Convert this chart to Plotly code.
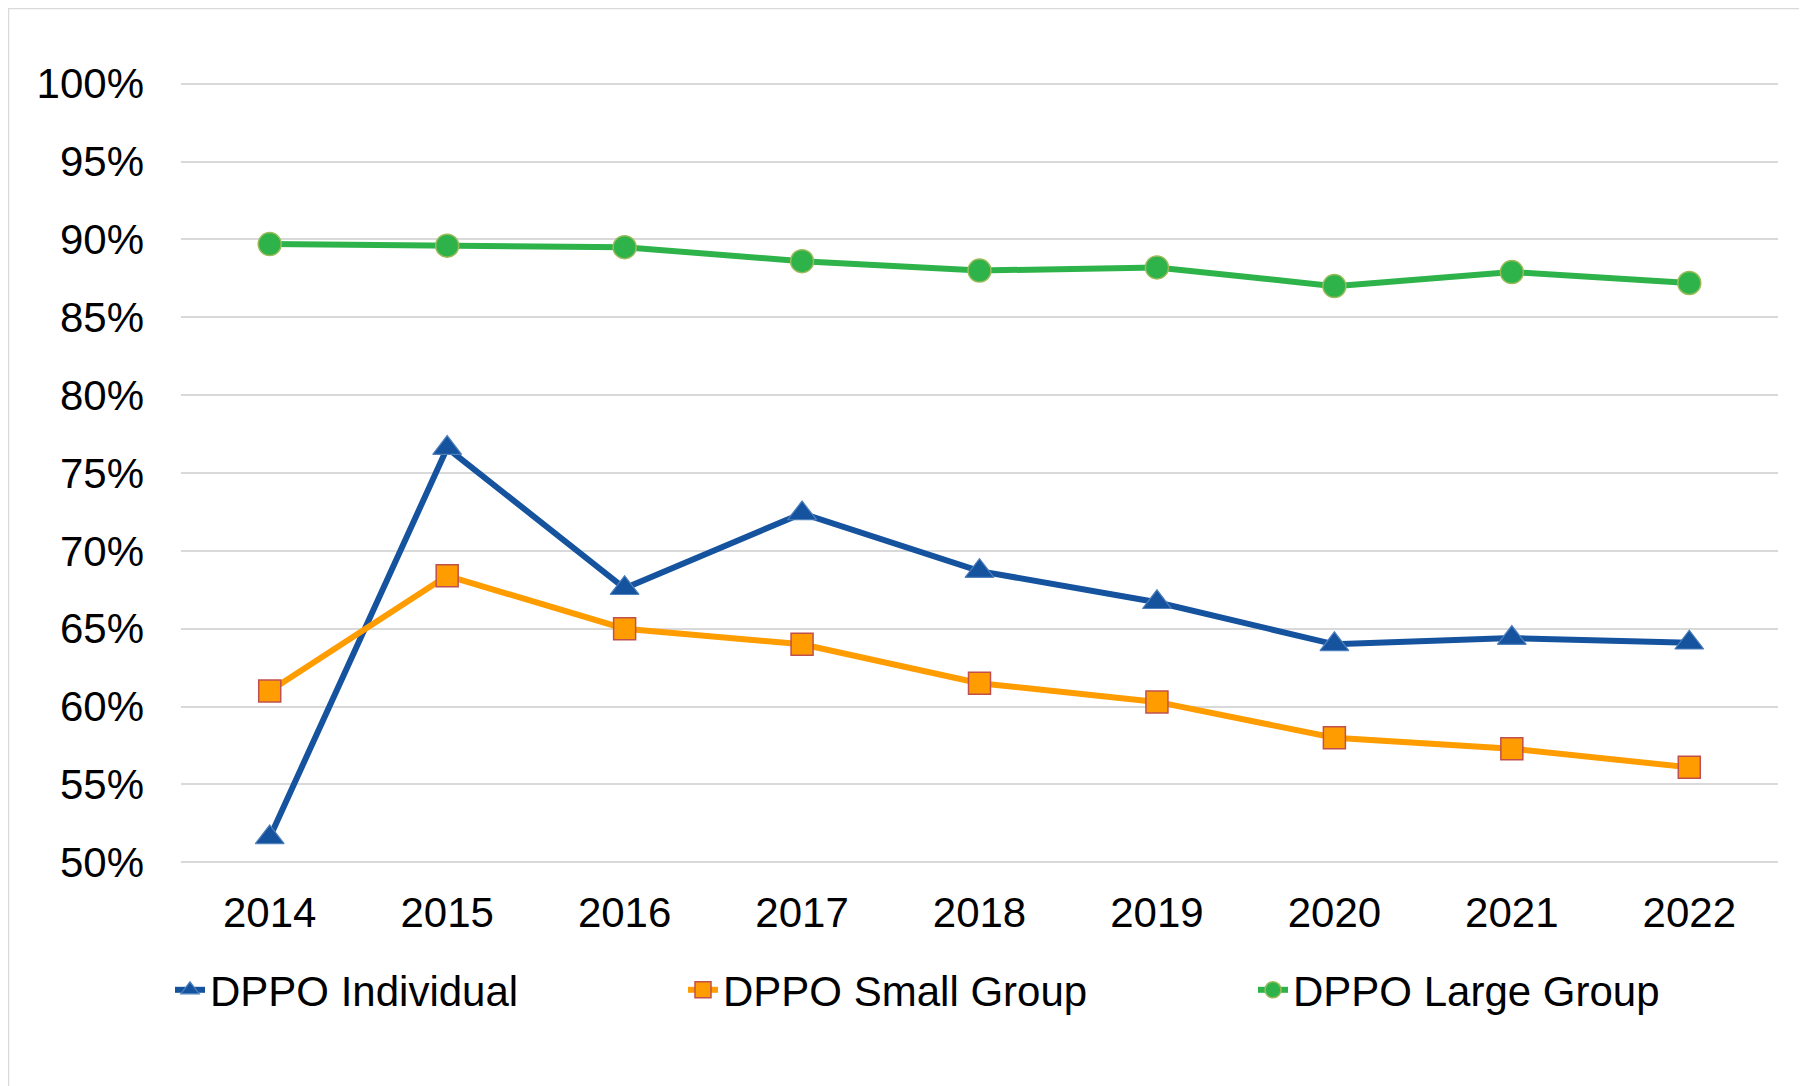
import plotly.graph_objects as go

# data
years = ["2014", "2015", "2016", "2017", "2018", "2019", "2020", "2021", "2022"]
individual = [0.516, 0.766, 0.676, 0.724, 0.687, 0.667, 0.640, 0.644, 0.641]
small_group = [0.610, 0.684, 0.650, 0.640, 0.615, 0.603, 0.580, 0.573, 0.561]
large_group = [0.897, 0.896, 0.895, 0.886, 0.880, 0.882, 0.870, 0.879, 0.872]
y_ticks = [0.5, 0.55, 0.6, 0.65, 0.7, 0.75, 0.8, 0.85, 0.9, 0.95, 1.0]

W, H = 1807, 1086
# the page adds an 8px body margin, so the figure sits at (8, 8)
# y range is padded a bit so the 50% and 100% gridlines are not clipped
Y_LO, Y_HI = 0.497, 1.003
L, R = 173, 37
top_px, bot_px = 76, 854          # where 100% and 50% should land (figure coords)
per_unit = (bot_px - top_px) / 0.5
T = round(top_px - (Y_HI - 1.0) * per_unit)
B = round(H - (bot_px + (0.5 - Y_LO) * per_unit))
plot_w = W - L - R
plot_h = H - T - B
FONT = "Liberation Sans, Arial, sans-serif"


def px_x(px):
    return (px - L) / plot_w


def px_y(py):
    return (H - B - py) / plot_h


fig = go.Figure()

fig.add_trace(go.Scatter(
    x=years, y=individual, mode="lines+markers", name="DPPO Individual",
    line=dict(color="#15539E", width=6),
    marker=dict(symbol="triangle-up", size=25, color="#15539E",
                line=dict(color="#4F81BD", width=1.2)),
    legend="legend",
))
fig.add_trace(go.Scatter(
    x=years, y=small_group, mode="lines+markers", name="DPPO Small Group",
    line=dict(color="#FF9C00", width=6),
    marker=dict(symbol="square", size=22, color="#FF9C00",
                line=dict(color="#C0504D", width=1.5)),
    legend="legend2",
))
fig.add_trace(go.Scatter(
    x=years, y=large_group, mode="lines+markers", name="DPPO Large Group",
    line=dict(color="#2DB34A", width=6),
    marker=dict(symbol="circle", size=23, color="#2DB34A",
                line=dict(color="#9BBB59", width=1.5)),
    legend="legend3",
))

legend_style = dict(orientation="h", yanchor="middle", xanchor="left",
                    y=px_y(982), font=dict(family=FONT, size=42, color="#000000"),
                    bgcolor="rgba(0,0,0,0)", itemwidth=30)

fig.update_layout(
    width=W, height=H,
    margin=dict(l=L, r=R, t=T, b=B),
    paper_bgcolor="white", plot_bgcolor="white",
    font=dict(family=FONT, size=42, color="#000000"),
    showlegend=True,
    legend=dict(legend_style, x=px_x(162)),
    legend2=dict(legend_style, x=px_x(675)),
    legend3=dict(legend_style, x=px_x(1245)),
    xaxis=dict(
        type="category", range=[-0.5, 8.5], showgrid=False, zeroline=False,
        showline=False, ticks="", ticklabelstandoff=17,
        tickfont=dict(family=FONT, size=42, color="#000000"),
    ),
    yaxis=dict(
        range=[Y_LO, Y_HI], tickvals=y_ticks, tickformat=".0%",
        showgrid=True, gridcolor="#D9D9D9", gridwidth=2,
        zeroline=False, showline=False, ticks="", ticklabelstandoff=36,
        tickfont=dict(family=FONT, size=42, color="#000000"),
    ),
    shapes=[dict(
        type="rect", xref="paper", yref="paper",
        x0=px_x(0.5), x1=px_x(1796), y0=px_y(1090), y1=px_y(0.5),
        line=dict(color="#D9D9D9", width=1.5), fillcolor="rgba(0,0,0,0)",
        layer="below",
    )],
)

fig.write_html("out.html")
